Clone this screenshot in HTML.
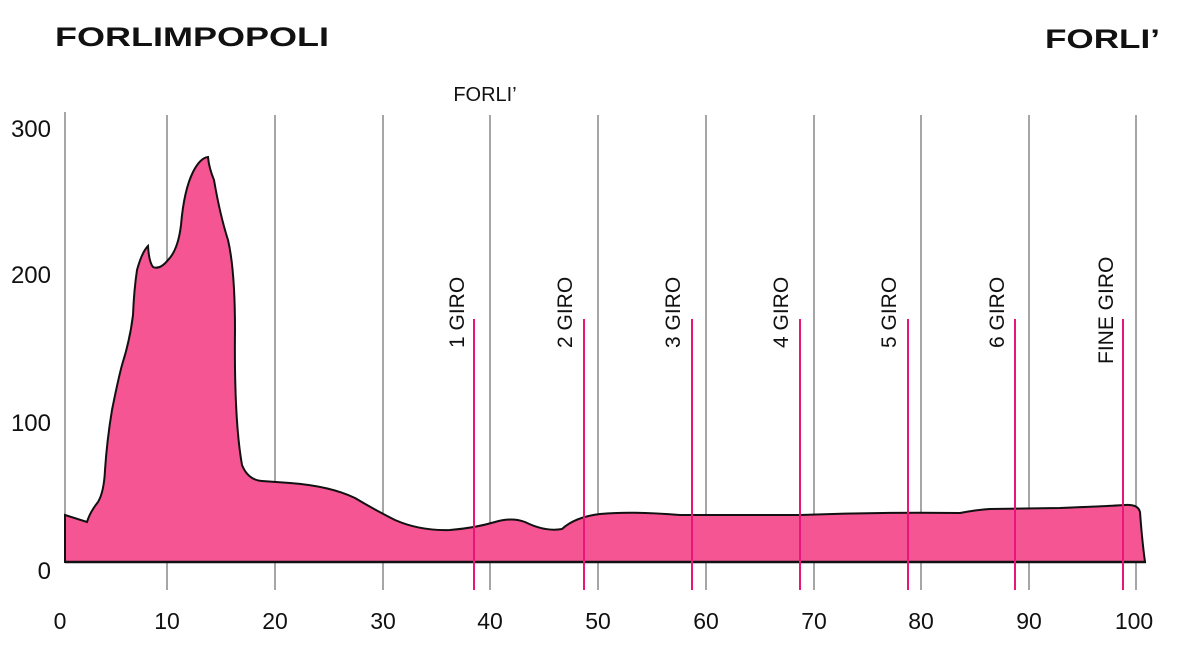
<!DOCTYPE html>
<html><head><meta charset="utf-8"><style>
body{margin:0;background:#fff;}
svg{display:block;font-family:"Liberation Sans",sans-serif;}
</style></head><body>
<svg width="1202" height="662" viewBox="0 0 1202 662">
<text x="55" y="46" font-size="27" font-weight="900" fill="#111" textLength="274" lengthAdjust="spacingAndGlyphs">FORLIMPOPOLI</text>
<text x="1045" y="48" font-size="27" font-weight="900" fill="#111" textLength="115" lengthAdjust="spacingAndGlyphs">FORLI’</text>
<text x="485" y="101" font-size="20" fill="#111" text-anchor="middle">FORLI’</text>
<g stroke="#777" stroke-width="1.3">
<line x1="167" y1="115" x2="167" y2="590"/><line x1="275" y1="115" x2="275" y2="590"/>
<line x1="383" y1="115" x2="383" y2="590"/><line x1="490" y1="115" x2="490" y2="590"/>
<line x1="598" y1="115" x2="598" y2="590"/><line x1="706" y1="115" x2="706" y2="590"/>
<line x1="814" y1="115" x2="814" y2="590"/><line x1="921" y1="115" x2="921" y2="590"/>
<line x1="1029" y1="115" x2="1029" y2="590"/><line x1="1136" y1="115" x2="1136" y2="590"/>
<line x1="65" y1="112" x2="65" y2="562"/>
</g>
<path d="M65,515 L87,522 Q90,512 98,502 Q104,492 105,470 Q107,440 112,410 Q118,380 122,365 Q130,340 133,315 Q134,290 137,270 Q142,252 148,246 Q149,262 153,267 Q160,270 168,260 Q178,250 181,225 Q184,190 193,172 Q200,158 208,157 Q209,168 214,180 Q220,215 228,240 Q235,270 235,330 Q234,420 242,465 Q248,480 262,481 L290,483 Q330,486 355,498 Q375,510 395,520 Q420,531 450,530 Q475,528 495,522 Q512,517 525,522 Q545,532 562,529 Q575,517 600,514 Q630,511 680,515 L800,515 Q880,512 960,513 Q975,510 990,509 L1060,508 Q1110,506 1125,505 Q1138,504 1140,512 Q1142,540 1145,562 L65,562 Z" fill="#f55592" stroke="#111" stroke-width="2"/>
<line x1="65" y1="562" x2="1146" y2="562" stroke="#111" stroke-width="2.5"/>
<g stroke="#e8157a" stroke-width="2">
<line x1="474" y1="319" x2="474" y2="590"/><line x1="584" y1="319" x2="584" y2="590"/>
<line x1="692" y1="319" x2="692" y2="590"/><line x1="800" y1="319" x2="800" y2="590"/>
<line x1="908" y1="319" x2="908" y2="590"/><line x1="1015" y1="319" x2="1015" y2="590"/>
<line x1="1123" y1="319" x2="1123" y2="590"/>
</g>
<g font-size="21" fill="#111">
<text transform="translate(464,348) rotate(-90)">1 GIRO</text>
<text transform="translate(572,348) rotate(-90)">2 GIRO</text>
<text transform="translate(680,348) rotate(-90)">3 GIRO</text>
<text transform="translate(788,348) rotate(-90)">4 GIRO</text>
<text transform="translate(896,348) rotate(-90)">5 GIRO</text>
<text transform="translate(1004,348) rotate(-90)">6 GIRO</text>
<text transform="translate(1113,364) rotate(-90)">FINE GIRO</text>
</g>
<g font-size="24" fill="#111" text-anchor="end">
<text x="51" y="137">300</text><text x="51" y="283">200</text>
<text x="51" y="431">100</text><text x="51" y="579">0</text>
</g>
<g font-size="23" fill="#111" text-anchor="middle">
<text x="60" y="629">0</text><text x="167" y="629">10</text><text x="275" y="629">20</text>
<text x="383" y="629">30</text><text x="490" y="629">40</text><text x="598" y="629">50</text>
<text x="706" y="629">60</text><text x="814" y="629">70</text><text x="921" y="629">80</text>
<text x="1029" y="629">90</text><text x="1134" y="629">100</text>
</g>
</svg>
</body></html>
